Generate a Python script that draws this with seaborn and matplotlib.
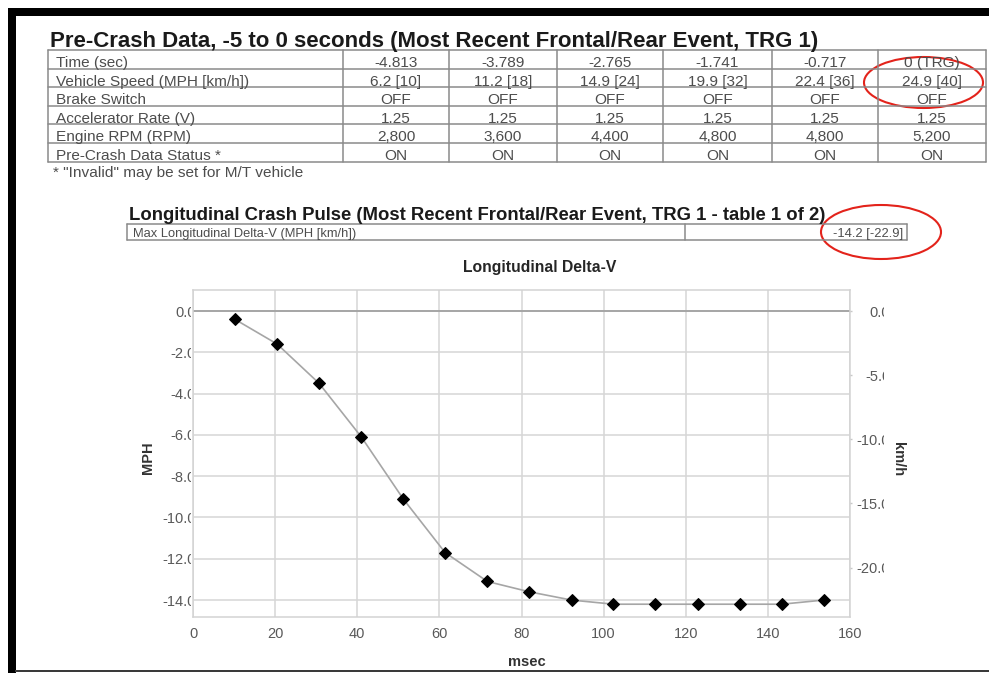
import numpy as np
import pandas as pd
import seaborn as sns
import matplotlib
matplotlib.use("Agg")
import matplotlib.pyplot as plt
from matplotlib.patches import Rectangle, Ellipse
from matplotlib.lines import Line2D
from matplotlib.transforms import Bbox

# ---------------- data ----------------
msec = [10.2, 20.5, 30.7, 41.0, 51.2, 61.4, 71.7, 81.9, 92.2, 102.4, 112.6, 122.9, 133.1, 143.4, 153.6]
delta_v_mph = [-0.4, -1.6, -3.5, -6.1, -9.1, -11.7, -13.1, -13.6, -14.0, -14.2, -14.2, -14.2, -14.2, -14.2, -14.0]

x_ticks = [0, 20, 40, 60, 80, 100, 120, 140, 160]
mph_ticks = [0, -2, -4, -6, -8, -10, -12, -14]
mph_labels = ["0.0", "-2.0", "-4.0", "-6.0", "-8.0", "-10.0", "-12.0", "-14.0"]
kmh_ticks = [0, -5, -10, -15, -20]
kmh_labels = ["0.0", "-5.0", "-10.0", "-15.0", "-20.0"]

pre_title = "Pre-Crash Data, -5 to 0 seconds (Most Recent Frontal/Rear Event, TRG 1)"
pre_rows = ["Time (sec)", "Vehicle Speed (MPH [km/h])", "Brake Switch",
            "Accelerator Rate (V)", "Engine RPM (RPM)", "Pre-Crash Data Status *"]
time_vals = ["-4.813", "-3.789", "-2.765", "-1.741", "-0.717", "0 (TRG)"]
speed_vals = ["6.2 [10]", "11.2 [18]", "14.9 [24]", "19.9 [32]", "22.4 [36]", "24.9 [40]"]
brake_vals = ["OFF", "OFF", "OFF", "OFF", "OFF", "OFF"]
accel_vals = ["1.25", "1.25", "1.25", "1.25", "1.25", "1.25"]
rpm_vals = ["2,800", "3,600", "4,400", "4,800", "4,800", "5,200"]
status_vals = ["ON", "ON", "ON", "ON", "ON", "ON"]
footnote = '* "Invalid" may be set for M/T vehicle'

pulse_title = "Longitudinal Crash Pulse (Most Recent Frontal/Rear Event, TRG 1 - table 1 of 2)"
max_label = "Max Longitudinal Delta-V (MPH [km/h])"
max_value = "-14.2 [-22.9]"
chart_title = "Longitudinal Delta-V"

MPH_TO_KMH = 1.609344

# ---------------- style ----------------
sns.set_style("white")
plt.rcParams["font.family"] = ["Liberation Sans", "DejaVu Sans"]

W, H, DPI = 989, 673, 100
fig = plt.figure(figsize=(W / DPI, H / DPI), dpi=DPI)
fig.patch.set_facecolor("white")
T = fig.dpi_scale_trans
renderer = fig.canvas.get_renderer()


def P(x, y):
    return (x / DPI, (H - y) / DPI)


def fit(s, width, weight="normal"):
    t = fig.text(0, 0, s, fontsize=10, fontweight=weight)
    w = t.get_window_extent(renderer).width
    t.remove()
    return 10.0 * width / w


def text(x, y, s, size, **kw):
    fig.text(*P(x, y), s, transform=T, fontsize=size, **kw)


def line(x0, y0, x1, y1, color="#8a8a8a", lw=1.1):
    (a, b), (c, d) = P(x0, y0), P(x1, y1)
    fig.add_artist(Line2D([a, c], [b, d], transform=T, color=color, lw=lw))


# ---------------- screenshot frame ----------------
fig.add_artist(Rectangle(P(8, 15.5), (W - 8) / DPI, 7.5 / DPI, transform=T,
                         facecolor="black", edgecolor="none"))
fig.add_artist(Rectangle(P(8, H), 7.5 / DPI, (H - 8) / DPI, transform=T,
                         facecolor="black", edgecolor="none"))
fig.add_artist(Rectangle(P(15, 672), (W - 15) / DPI, 2 / DPI, transform=T,
                         facecolor="#3a3a3a", edgecolor="none"))

# ---------------- pre-crash table ----------------
text(50, 47, pre_title, fit(pre_title, 772, "bold"), fontweight="bold",
     color="#1a1a1a", va="baseline")

col_x = [48, 343, 449, 557, 663, 772, 878, 986]
row_y = [50, 68.5, 87, 105.5, 124, 142.5, 161.5]
for yy in row_y:
    line(col_x[0], yy, col_x[-1], yy)
for xx in col_x:
    line(xx, row_y[0], xx, row_y[-1])

cell_size = fit("Vehicle Speed (MPH [km/h])", 194)
values = [time_vals, speed_vals, brake_vals, accel_vals, rpm_vals, status_vals]
for r, (lab, vals) in enumerate(zip(pre_rows, values)):
    base = row_y[r + 1] - 1.2
    text(56, base, lab, cell_size, color="#4d4d4d", va="baseline")
    for c, v in enumerate(vals):
        cx = (col_x[c + 1] + col_x[c + 2]) / 2
        text(cx, base, v, cell_size, color="#4d4d4d", va="baseline", ha="center")

text(53, 176.5, footnote, fit(footnote, 250), color="#4d4d4d", va="baseline")

# ---------------- crash pulse table ----------------
text(129, 220.5, pulse_title, fit(pulse_title, 699, "bold"), fontweight="bold",
     color="#1a1a1a", va="baseline")
for yy in (224.5, 240):
    line(127, yy, 907, yy)
for xx in (127, 685, 907):
    line(xx, 224.5, xx, 240)
small = fit(max_label, 224)
text(133, 237, max_label, small, color="#4d4d4d", va="baseline")
text(903, 237, max_value, small, color="#4d4d4d", va="baseline", ha="right")

text(540, 271.5, chart_title, fit(chart_title, 153, "bold"), fontweight="bold",
     color="#262626", va="baseline", ha="center")

# red annotation ellipses
fig.add_artist(Ellipse(P(923.5, 82.5), 119 / DPI, 51 / DPI, transform=T,
                       facecolor="none", edgecolor="#e3231b", lw=1.5))
fig.add_artist(Ellipse(P(881, 232), 120 / DPI, 54 / DPI, transform=T,
                       facecolor="none", edgecolor="#e3231b", lw=1.5))

# ---------------- chart ----------------
ax = fig.add_axes([193 / W, 1 - 617 / H, 657 / W, 327 / H])
df = pd.DataFrame({"msec": msec, "MPH": delta_v_mph})
ax.grid(True, color="#d6d6d6", lw=1.1)
ax.axhline(0, color="#9c9c9c", lw=1.2, zorder=1.5)
sns.lineplot(data=df, x="msec", y="MPH", ax=ax, color="#a6a6a6", lw=1.2,
             marker="D", markersize=6.5, markerfacecolor="black",
             markeredgecolor="black", zorder=3)

ylim_mph = (-14.82, 1.02)
ax.set_xlim(0, 160)
ax.set_ylim(*ylim_mph)
ax.set_xticks(x_ticks)
ax.set_xticklabels([str(v) for v in x_ticks])
ax.set_yticks(mph_ticks)
ax.set_yticklabels(mph_labels)
for s in ax.spines.values():
    s.set_color("#d3d3d3")
    s.set_linewidth(1.1)
ax.tick_params(axis="x", length=0, pad=7, labelsize=10.5, labelcolor="#595959")
ax.tick_params(axis="y", length=0, pad=-2.2, labelsize=10.5, labelcolor="#595959")

ax.set_xlabel("msec", fontsize=10.5, fontweight="bold", color="#333333")
ax.xaxis.set_label_coords(0.508, -0.115)
ax.set_ylabel("MPH", fontsize=10.5, fontweight="bold", color="#333333",
              rotation=90, rotation_mode="anchor", ha="center", va="center")
ax.yaxis.set_label_coords(-0.0685, 0.486)

ax2 = ax.twinx()
ax2.set_ylim(ylim_mph[0] * MPH_TO_KMH, ylim_mph[1] * MPH_TO_KMH)
ax2.set_yticks(kmh_ticks)
ax2.set_yticklabels(kmh_labels)
for s in ax2.spines.values():
    s.set_visible(False)
ax2.tick_params(axis="y", length=1.5, width=1, color="#c8c8c8", pad=27.4,
                labelsize=10.5, labelcolor="#595959")
for lab in ax2.get_yticklabels():
    lab.set_ha("right")
ax2.set_ylabel("km/h", fontsize=10.5, fontweight="bold", color="#333333",
               rotation=270, rotation_mode="anchor", ha="center", va="center")
ax2.yaxis.set_label_coords(1.0731, 0.483)

# clip tick labels like the cropped screenshot
fig.canvas.draw()
left_clip = Bbox.from_extents(0, 0, 190.5, H)
right_clip = Bbox.from_extents(0, 0, 884, H)
for t in ax.yaxis.get_major_ticks():
    t.label1.set_clip_box(left_clip)
    t.label1.set_clip_on(True)
for t in ax2.yaxis.get_major_ticks():
    t.label2.set_ha("right")
    t.label2.set_clip_box(right_clip)
    t.label2.set_clip_on(True)

fig.savefig("out.png", dpi=DPI)
